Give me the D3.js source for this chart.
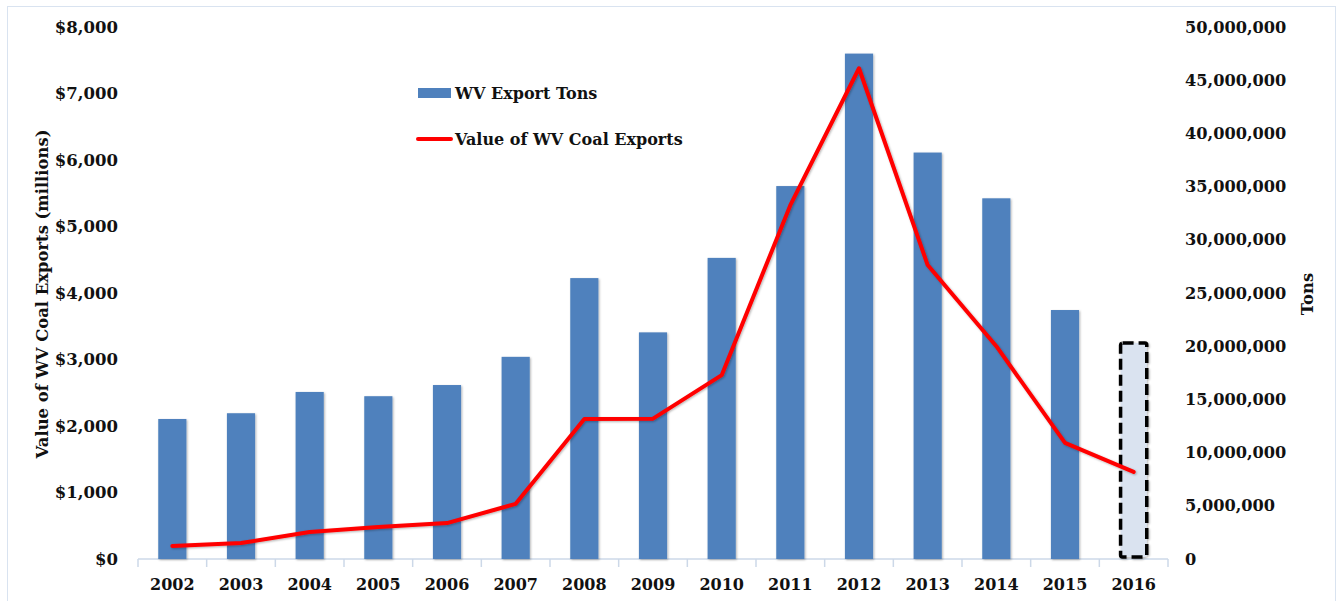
<!DOCTYPE html>
<html>
<head>
<meta charset="utf-8">
<script src="https://cdn.jsdelivr.net/npm/d3@7"></script>
<style>
  body { margin: 0; background: #fff; }
  text { font-family: "DejaVu Serif", serif; font-weight: bold; fill: #111; }
</style>
</head>
<body>
<div id="chart"></div>
<script>
var years = ["2002", "2003", "2004", "2005", "2006", "2007", "2008", "2009",
             "2010", "2011", "2012", "2013", "2014", "2015", "2016"];
var exportTons = [13160000, 13700000, 15700000, 15300000, 16350000, 19000000, 26400000,
                  21300000, 28300000, 35050000, 47500000, 38200000, 33900000, 23400000, 20300000];
var exportValue = [195, 240, 405, 480, 540, 830, 2105, 2110, 2765, 5320, 7380, 4420, 3200, 1745, 1310];
var valueTicks = [0, 1000, 2000, 3000, 4000, 5000, 6000, 7000, 8000];
var tonTicks = [0, 5e6, 10e6, 15e6, 20e6, 25e6, 30e6, 35e6, 40e6, 45e6, 50e6];
var estimateYear = "2016";

var width = 1344, height = 601;
var plotLeft = 138, plotRight = 1168, plotTop = 27, plotBottom = 559;

var svg = d3.select('#chart').append('svg')
    .attr('width', width).attr('height', height);

var defs = svg.append('defs');
var shadow = defs.append('filter').attr('id', 'shadow')
    .attr('x', '-20%').attr('y', '-20%').attr('width', '140%').attr('height', '140%');
shadow.append('feDropShadow')
    .attr('dx', 1).attr('dy', 1).attr('stdDeviation', 1)
    .attr('flood-color', '#000').attr('flood-opacity', 0.3);

// outer frame
svg.append('rect')
    .attr('x', 7.5).attr('y', 6.5)
    .attr('width', 1328).attr('height', 600)
    .attr('fill', 'none').attr('stroke', '#d9e3f0');

var x = d3.scaleBand().domain(years).range([plotLeft, plotRight]).paddingInner(0.59).paddingOuter(0.295);
var xOuter = d3.scaleBand().domain(years).range([plotLeft, plotRight]);
var yLeft = d3.scaleLinear().domain([0, 8000]).range([plotBottom, plotTop]);
var yRight = d3.scaleLinear().domain([0, 50e6]).range([plotBottom, plotTop]);

// category axis (drawn under the bars)
var xAxis = svg.append('g').attr('transform', 'translate(0,' + plotBottom + ')');
xAxis.append('line')
    .attr('x1', plotLeft).attr('x2', plotRight)
    .attr('stroke', '#ccd8e8').attr('stroke-width', 1.5);
xAxis.selectAll('line.tick')
    .data(years.concat(['end']))
    .enter().append('line')
    .attr('class', 'tick')
    .attr('x1', (d, i) => plotLeft + i * xOuter.step())
    .attr('x2', (d, i) => plotLeft + i * xOuter.step())
    .attr('y1', 0).attr('y2', 8)
    .attr('stroke', '#ccd8e8').attr('stroke-width', 1.5);
xAxis.selectAll('text')
    .data(years)
    .enter().append('text')
    .attr('x', d => x(d) + x.bandwidth() / 2)
    .attr('y', 31)
    .attr('text-anchor', 'middle')
    .style('font-size', '16px')
    .text(d => d);

// bars
var barData = years.map((y, i) => ({ year: y, tons: exportTons[i] }));
svg.append('g').selectAll('rect.bar')
    .data(barData.filter(d => d.year !== estimateYear))
    .enter().append('rect')
    .attr('class', 'bar')
    .attr('x', d => x(d.year))
    .attr('y', d => yRight(d.tons))
    .attr('width', x.bandwidth())
    .attr('height', d => plotBottom - yRight(d.tons))
    .attr('fill', '#4f81bd')
    .attr('filter', 'url(#shadow)');

// estimated year: dashed outline box
svg.append('g').selectAll('rect.estimate')
    .data(barData.filter(d => d.year === estimateYear))
    .enter().append('rect')
    .attr('class', 'estimate')
    .attr('x', d => x(d.year) + 1)
    .attr('y', d => yRight(d.tons))
    .attr('width', x.bandwidth() - 2)
    .attr('height', d => plotBottom - 2 - yRight(d.tons))
    .attr('rx', 2)
    .attr('fill', '#dae3f0')
    .attr('stroke', '#000')
    .attr('stroke-width', 3.5)
    .attr('stroke-dasharray', '11,5')
    .attr('filter', 'url(#shadow)');

// left axis
var fmtDollar = d3.format('$,');
svg.append('g').selectAll('text')
    .data(valueTicks)
    .enter().append('text')
    .attr('x', 118)
    .attr('y', d => yLeft(d))
    .attr('dy', '0.35em')
    .attr('text-anchor', 'end')
    .style('font-size', '16.5px')
    .text(d => fmtDollar(d));

// right axis
var fmtComma = d3.format(',');
svg.append('g').selectAll('text')
    .data(tonTicks)
    .enter().append('text')
    .attr('x', 1185)
    .attr('y', d => yRight(d))
    .attr('dy', '0.35em')
    .attr('text-anchor', 'start')
    .style('font-size', '16.2px')
    .text(d => fmtComma(d));

// axis titles
svg.append('text')
    .attr('transform', 'translate(48,' + 294 + ') rotate(-90)')
    .attr('text-anchor', 'middle')
    .style('font-size', '16.4px')
    .text('Value of WV Coal Exports (millions)');
svg.append('text')
    .attr('transform', 'translate(1313,' + 294 + ') rotate(-90)')
    .attr('text-anchor', 'middle')
    .style('font-size', '16.4px')
    .text('Tons');

// value line
var line = d3.line()
    .x((d, i) => x(years[i]) + x.bandwidth() / 2)
    .y(d => yLeft(d));
svg.append('path')
    .datum(exportValue)
    .attr('d', line)
    .attr('fill', 'none')
    .attr('stroke', '#ff0000')
    .attr('stroke-width', 4)
    .attr('stroke-linejoin', 'round')
    .attr('stroke-linecap', 'round')
    .attr('filter', 'url(#shadow)');

// legend
var legend = svg.append('g');
legend.append('rect')
    .attr('x', 418).attr('y', 88).attr('width', 33).attr('height', 10)
    .attr('fill', '#4f81bd');
legend.append('text')
    .attr('x', 455).attr('y', 93).attr('dy', '0.35em')
    .style('font-size', '16px')
    .text('WV Export Tons');
legend.append('line')
    .attr('x1', 418).attr('x2', 451).attr('y1', 139).attr('y2', 139)
    .attr('stroke', '#ff0000').attr('stroke-width', 4).attr('stroke-linecap', 'round');
legend.append('text')
    .attr('x', 455).attr('y', 139).attr('dy', '0.35em')
    .style('font-size', '16px')
    .text('Value of WV Coal Exports');
</script>
</body>
</html>
